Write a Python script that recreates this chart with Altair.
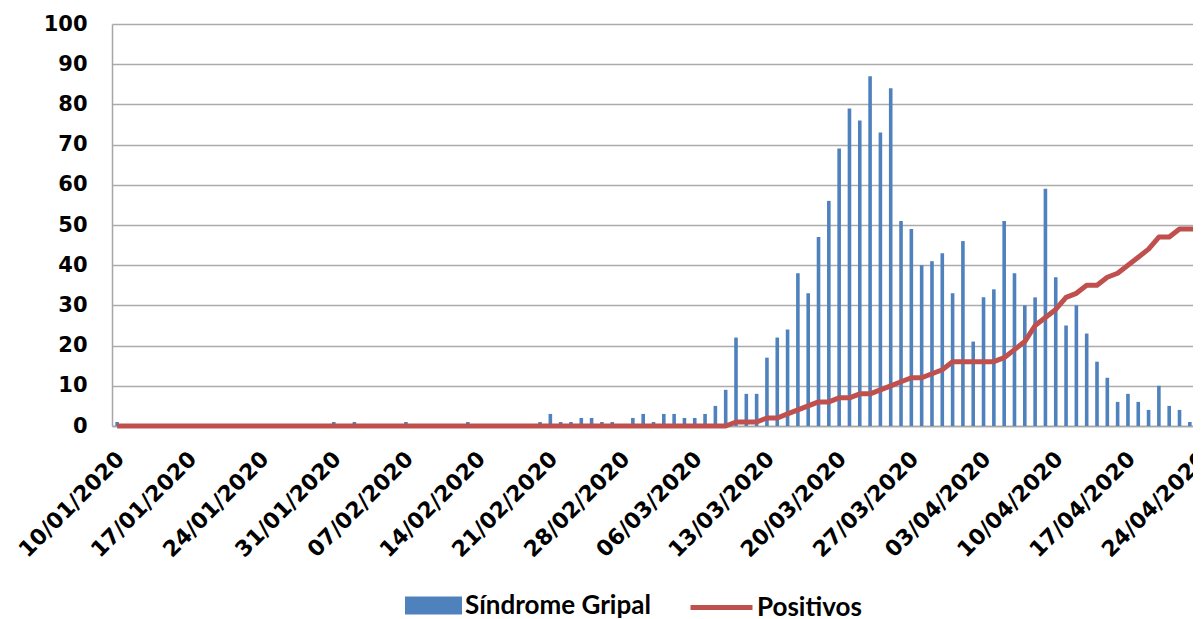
import altair as alt
import pandas as pd

# Daily dates (categories)
dates = pd.date_range("2020-01-10", "2020-04-24", freq="D").strftime("%Y-%m-%d").tolist()

# Síndrome Gripal daily counts
sindrome = [1, 0, 0, 0, 0, 0, 0, 0, 0, 0,
            0, 0, 0, 0, 0, 0, 0, 0, 0, 0,
            0, 1, 0, 1, 0, 0, 0, 0, 1, 0,
            0, 0, 0, 0, 1, 0, 0, 0, 0, 0,
            0, 1, 3, 1, 1, 2, 2, 1, 1, 0,
            2, 3, 1, 3, 3, 2, 2, 3, 5, 9,
            22, 8, 8, 17, 22, 24, 38, 33, 47, 56,
            69, 79, 76, 87, 73, 84, 51, 49, 40, 41,
            43, 33, 46, 21, 32, 34, 51, 38, 30, 32,
            59, 37, 25, 30, 23, 16, 12, 6, 8, 6,
            4, 10, 5, 4, 1, 2]

# Positivos (cumulative)
positivos = [0] * 60 + [1, 1, 1, 2, 2, 3, 4, 5, 6, 6,
                        7, 7, 8, 8, 9, 10, 11, 12, 12, 13,
                        14, 16, 16, 16, 16, 16, 17, 19, 21, 25,
                        27, 29, 32, 33, 35, 35, 37, 38, 40, 42,
                        44, 47, 47, 49, 49, 49]

tick_dates = dates[::7]
y_ticks = [0, 10, 20, 30, 40, 50, 60, 70, 80, 90, 100]

df = pd.DataFrame({
    "fecha": dates,
    "sg": sindrome,
    "pos": positivos,
    "s1": "Síndrome Gripal",
    "s2": "Positivos",
})

def dt(s, hours=0, minutes=0):
    y, m, d = map(int, s.split("-"))
    return alt.DateTime(year=y, month=m, date=d, hours=hours, minutes=minutes, utc=True)

x_scale = alt.Scale(type="utc", padding=0,
                    domain=[dt("2020-01-09", 12), dt("2020-04-24", 2)])
x_axis = alt.Axis(
    values=[dt(s) for s in tick_dates],
    format="%d/%m/%Y",
    labelAngle=-45,
    labelAlign="right",
    labelBaseline="top",
    labelFont="DejaVu Sans",
    labelFontWeight="bold",
    labelFontSize=22,
    labelColor="black",
    labelPadding=22,
    labelOffset=-4,
    ticks=False,
    grid=False,
    domainColor="#a6a6a6",
    domainWidth=1.5,
    title=None,
    labelOverlap=False,
    labelFlush=False,
    labelBound=False,
)
y_scale = alt.Scale(domain=[0, 100], nice=False, padding=0)
y_axis = alt.Axis(
    values=y_ticks,
    labelFont="DejaVu Sans",
    labelFontWeight="bold",
    labelFontSize=21,
    labelColor="black",
    labelPadding=25,
    ticks=False,
    grid=True,
    gridColor="#ababab",
    gridWidth=1.5,
    domainColor="#a6a6a6",
    domainWidth=1.5,
    title=None,
)

bars = alt.Chart(df).mark_bar(size=3.6).encode(
    x=alt.X("fecha:T", scale=x_scale, axis=x_axis),
    y=alt.Y("sg:Q", scale=y_scale, axis=y_axis),
    color=alt.Color(
        "s1:N",
        scale=alt.Scale(domain=["Síndrome Gripal"], range=["#4F81BD"]),
        legend=alt.Legend(
            title=None,
            orient="none",
            legendX=293,
            legendY=553,
            symbolType="M-1,-0.32H1V0.32H-1Z",
            symbolSize=3249,
            symbolStrokeWidth=0,
            labelOffset=3,
        ),
    ),
)

line = alt.Chart(df).mark_line(strokeWidth=5, strokeJoin="round").encode(
    x=alt.X("fecha:T", scale=x_scale, axis=x_axis),
    y=alt.Y("pos:Q", scale=y_scale, axis=y_axis),
    stroke=alt.Stroke(
        "s2:N",
        scale=alt.Scale(domain=["Positivos"], range=["#C0504D"]),
        legend=alt.Legend(
            title=None,
            orient="none",
            legendX=576,
            legendY=550,
            symbolType="stroke",
            symbolSize=3844,
            symbolStrokeWidth=5,
            labelOffset=2,
        ),
    ),
)

chart = alt.layer(bars, line).resolve_scale(color="independent").properties(
    width=1089,
    height=402,
    autosize=alt.AutoSizeParams(type="none"),
    padding={"left": 104, "top": 16, "right": -8, "bottom": 195},
).configure_view(stroke=None).configure_legend(
    labelFont="Lato",
    labelFontWeight="bold",
    labelFontSize=26,
    labelColor="black",
    labelLimit=400,
    padding=0,
    symbolOpacity=1,
)

chart.save("out.html", embed_options={"renderer": "svg", "actions": False})
